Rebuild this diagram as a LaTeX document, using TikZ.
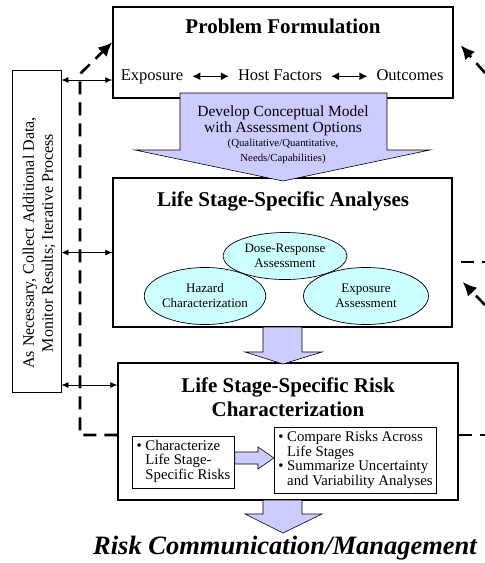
\documentclass[tikz,border=0pt]{standalone}
\usepackage{fontspec}
\setmainfont{Liberation Serif}
\usetikzlibrary{arrows.meta,shapes.geometric,positioning}
\definecolor{flowlilac}{RGB}{204,204,255}
\definecolor{bubblecyan}{RGB}{204,255,255}

\begin{document}
\begin{tikzpicture}[x=1pt, y=-1pt, stage/.style={rectangle, draw, line width=1.5pt, minimum width=340pt, inner sep=0pt}, title/.style={font=\fontsize{21}{24}\selectfont\bfseries, align=center}, item/.style={font=\fontsize{16.5}{19}\selectfont, text height=11pt, text depth=3.5pt, inner sep=9pt}, bubble/.style={ellipse, draw, line width=0.7pt, fill=bubblecyan, font=\fontsize{13}{15}\selectfont, align=center, inner sep=0pt}, sub/.style={rectangle, draw, line width=0.8pt, font=\fontsize{14.8}{14.5}\selectfont, inner sep=4pt}, flow/.style={draw, line width=0.6pt, fill=flowlilac}, loop/.style={line width=2.6pt, dash pattern=on 13pt off 8pt}, link/.style={line width=0.8pt, {Latex[length=7pt,width=6pt]}-{Latex[length=7pt,width=6pt]}}, pair/.style={line width=1.3pt, {Latex[length=8pt,width=8pt]}-{Latex[length=8pt,width=8pt]}}, big/.style={-{Latex[length=14pt,width=13pt]}}]

  \useasboundingbox (0,0) rectangle (485,563);

  % stages
  \node[stage, minimum height=91pt] (pf) at (283,52.5) {};
  \node[title, anchor=base] (pft) at (283,33) {Problem Formulation};
  \node[item, anchor=base] (ex) at (152,80) {Exposure};
  \node[item, anchor=base] (hf) at (280,80) {Host Factors};
  \node[item, anchor=base] (oc) at (410,80) {Outcomes};
  \draw[pair] (ex) -- (hf);
  \draw[pair] (hf) -- (oc);

  \node[stage, minimum width=339pt, minimum height=149pt] (la) at (282.5,252.5) {};
  \node[title, anchor=base] (lat) at (283,206) {Life Stage-Specific Analyses};
  \node[bubble, minimum width=120pt, minimum height=57pt] (hz) at (205,296) {Hazard\\Characterization};
  \node[bubble, minimum width=125pt, minimum height=57pt] (xa) at (366,296) {Exposure\\Assessment};
  \node[bubble, minimum width=124pt, minimum height=47pt] (dr) at (285,256) {Dose-Response\\Assessment};

  \node[stage, minimum height=137pt] (rc) at (288,431.5) {};
  \node[title] (rct) at (288,397) {Life Stage-Specific Risk\\Characterization};
  \node[sub] (cr) at (183.5,462) {\begin{tabular}{@{}l@{\ }l@{}}\textbullet & Characterize\\ & Life Stage-\\ & Specific Risks\end{tabular}};
  \node[sub] (cmp) at (355.5,460.5) {\begin{tabular}{@{}l@{\ }l@{}}\textbullet & Compare Risks Across\\ & Life Stages\\ \textbullet & Summarize Uncertainty\\ & and Variability Analyses\end{tabular}};

  % block arrows
  \draw[flow] (180,93) -- (387,93) -- (387,150) -- (430,150) -- (283,181) -- (135,150) -- (180,150) -- cycle;
  \node[font=\fontsize{15.5}{16}\selectfont, align=center] (dcm) at (283,121) {Develop Conceptual Model\\with Assessment Options};
  \node[font=\fontsize{10.8}{15}\selectfont, align=center] (opt) at (283,151) {(Qualitative/Quantitative,\\Needs/Capabilities)};
  \draw[flow] (263,327) -- (302,327) -- (302,352) -- (322,352) -- (283,364) -- (245,352) -- (263,352) -- cycle;
  \draw[flow] (cr.east |- 0,452) -- (258,452) -- (258,447) -- (cmp.west |- 0,458) -- (258,469) -- (258,464) -- (cr.east |- 0,464) -- cycle;
  \draw[flow] (263,500) -- (302,500) -- (302,514) -- (322,514) -- (283,533) -- (245,514) -- (263,514) -- cycle;

  \node[font=\fontsize{26.5}{30}\selectfont\bfseries\itshape] (rcm) at (285,548) {Risk Communication/Management};

  % iteration
  \node[rectangle, draw, line width=0.8pt, minimum width=49pt, minimum height=322pt, inner sep=0pt] (lp) at (36.5,231) {};
  \node[rotate=90, align=center, font=\fontsize{16}{19}\selectfont] (lpt) at (39,243) {As Necessary, Collect Additional Data,\\Monitor Results; Iterative Process};
  \draw[link] (lp.east |- 0,80) -- ([yshift=-27.5pt]pf.west);
  \draw[link] (lp.east |- la.west) -- (la.west);
  \draw[link] (lp.east |- 0,385) -- ([yshift=46.5pt]rc.west);

  \coordinate (bend) at (80,74);
  \coordinate (rtop) at (485,73);
  \coordinate (rmid) at (485,262);
  \coordinate (rlow) at (485,305);
  \coordinate (rbot) at (485,435);
  \draw[loop, big] ([yshift=-3.5pt]rc.west) -| (bend) -- ([yshift=-36pt]pf.north west);
  \draw[loop, big] (rtop) -- ([xshift=7pt,yshift=-39pt]pf.north east);
  \draw[loop] ([xshift=8pt,yshift=-9.5pt]la.east) -- (rmid);
  \draw[loop, big] (rlow) -- ([xshift=10pt,yshift=-29.5pt]la.east);
  \draw[loop] ([yshift=-3.5pt]rc.east) -- (rbot);
\end{tikzpicture}
\end{document}
